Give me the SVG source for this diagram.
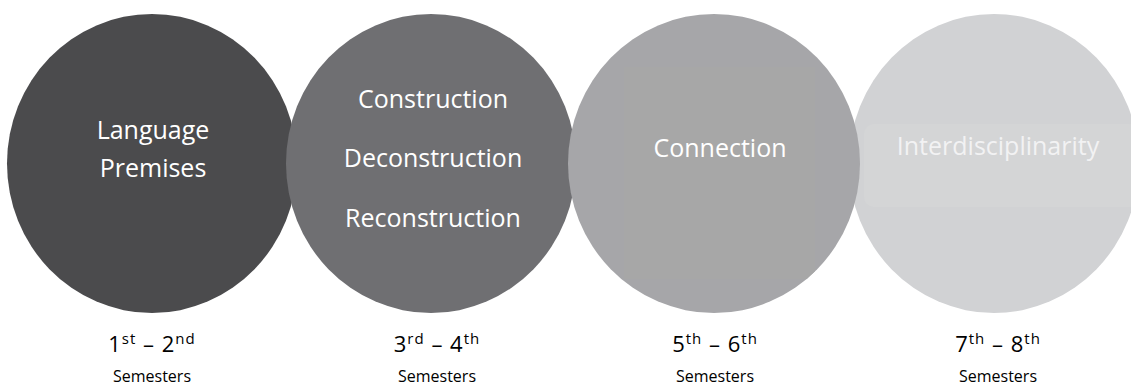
<svg xmlns="http://www.w3.org/2000/svg" width="1131" height="385" viewBox="0 0 1131 385">
<style>
.lbl{font-family:"Open Sans","Liberation Sans",sans-serif;font-size:25px;fill:#ffffff;text-anchor:middle}
.num{font-family:"Open Sans","Liberation Sans",sans-serif;font-size:22px;letter-spacing:1px;fill:#000000;text-anchor:middle}
.sem{font-family:"Open Sans","Liberation Sans",sans-serif;font-size:16px;fill:#000000;text-anchor:middle}
.sup{font-size:15px}
</style>
<defs>
<clipPath id="c3"><ellipse cx="714" cy="163.5" rx="146" ry="149.5"/></clipPath>
<clipPath id="c4"><ellipse cx="994" cy="163.5" rx="145" ry="149.5"/></clipPath>
</defs>
<rect width="1131" height="385" fill="#ffffff"/>
<g id="connectors"></g>
<g id="node1">
<ellipse cx="152" cy="163.5" rx="145" ry="149.5" fill="#4b4b4d"/>
<text class="lbl" x="153" y="139">Language</text>
<text class="lbl" x="153" y="177">Premises</text>
</g>
<g id="node2">
<ellipse cx="431" cy="163.5" rx="145" ry="149.5" fill="#6f6f72"/>
<text class="lbl" x="433" y="108">Construction</text>
<text class="lbl" x="433" y="167">Deconstruction</text>
<text class="lbl" x="433" y="227">Reconstruction</text>
</g>
<g id="node4">
<ellipse cx="994" cy="163.5" rx="145" ry="149.5" fill="#d1d2d4"/>
<rect x="864" y="124" width="275" height="83" rx="10" fill="#d4d5d6" clip-path="url(#c4)"/>
<text class="lbl" x="998" y="155" style="fill:#f2f2f3">Interdisciplinarity</text>
</g>
<g id="node3">
<ellipse cx="714" cy="163.5" rx="146" ry="149.5" fill="#a6a6a9"/>
<rect x="624" y="67" width="191" height="212" fill="#a7a7a7" clip-path="url(#c3)"/>
<text class="lbl" x="720" y="157">Connection</text>
</g>
<g id="label1">
<text class="num" x="152" y="352">1<tspan class="sup" dy="-8">st</tspan><tspan dy="8"> – 2</tspan><tspan class="sup" dy="-8">nd</tspan></text>
<text class="sem" x="152" y="382">Semesters</text>
</g>
<g id="label2">
<text class="num" x="437" y="352">3<tspan class="sup" dy="-8">rd</tspan><tspan dy="8"> – 4</tspan><tspan class="sup" dy="-8">th</tspan></text>
<text class="sem" x="437" y="382">Semesters</text>
</g>
<g id="label3">
<text class="num" x="715" y="352">5<tspan class="sup" dy="-8">th</tspan><tspan dy="8"> – 6</tspan><tspan class="sup" dy="-8">th</tspan></text>
<text class="sem" x="715" y="382">Semesters</text>
</g>
<g id="label4">
<text class="num" x="998" y="352">7<tspan class="sup" dy="-8">th</tspan><tspan dy="8"> – 8</tspan><tspan class="sup" dy="-8">th</tspan></text>
<text class="sem" x="998" y="382">Semesters</text>
</g>
</svg>
